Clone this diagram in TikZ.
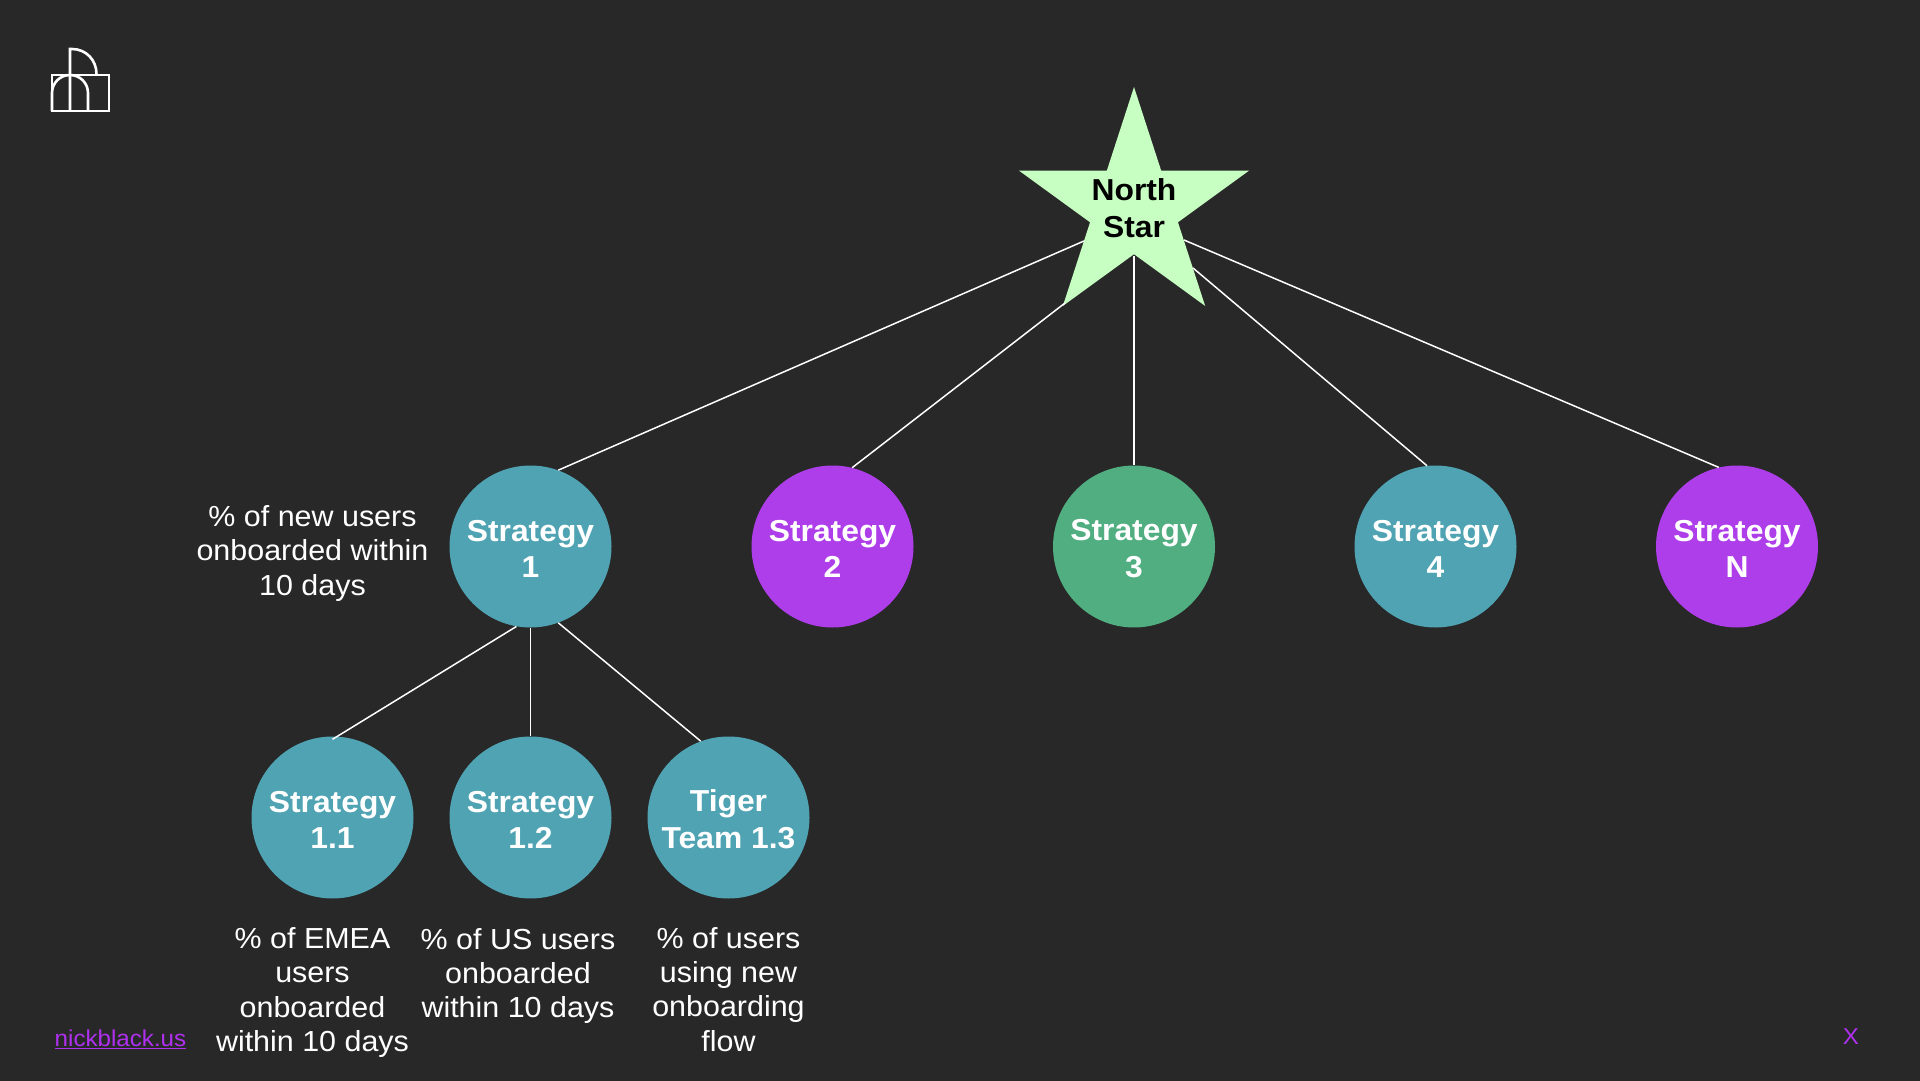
\documentclass[tikz,border=0pt]{standalone}
\usepackage{fontspec}
\setmainfont[FakeStretch=1.05]{Liberation Sans}
\usetikzlibrary{shapes.geometric}
\definecolor{bgc}{HTML}{282828}
\definecolor{tealc}{HTML}{4FA3B2}
\definecolor{purplec}{HTML}{AE3EEA}
\definecolor{greenc}{HTML}{50AE80}
\definecolor{starc}{HTML}{C6FFC1}
\definecolor{linkc}{HTML}{B030F0}
\newcommand{\liftline}{\rule{0pt}{26pt}}
\tikzset{
  circ/.style={circle,minimum size=162pt,inner sep=0pt,text=white,align=center,font=\fontsize{30.3}{36.8}\selectfont\bfseries},
  tealn/.style={circ,fill=tealc},
  purpn/.style={circ,fill=purplec},
  greenn/.style={circ,fill=greenc},
  note/.style={text=white,align=center,inner sep=0pt,font=\fontsize{29}{34.2}\selectfont},
  conn/.style={draw=white,line width=1.5pt},
  logo/.style={draw=white,line width=2.6pt,line join=miter}
}
\begin{document}
\begin{tikzpicture}[x=1pt,y=-1pt]
\useasboundingbox (0,0) rectangle (1920,1080.4);
\fill[bgc] (-2,-2) rectangle (1922,1083);
% logo
\draw[logo] (52,111) rectangle (109,75);
\draw[logo] (52,111) -- (52,93) .. controls (52,83) and (60,75) .. (70,75) .. controls (80,75) and (88,83) .. (88,93) -- (88,111);
\draw[logo] (70,111) -- (70,49) -- (72,49) .. controls (86,49) and (96.5,60) .. (96.5,74) -- (96.5,75);
% nodes
\node[star,star points=5,star point ratio=2.618,minimum size=242pt,inner sep=0pt,fill=starc] (ns) at (1134,208) {};
\node[text=black,align=center,inner sep=0pt,font=\fontsize{30.3}{36.8}\selectfont\bfseries] (nst) at (1134,208.5) {North\\Star};
\node[tealn] (s1) at (530.5,546.5) {\liftline Strategy\\1};
\node[purpn] (s2) at (832.5,546.5) {\liftline Strategy\\2};
\node[greenn] (s3) at (1134,546.5) {\liftline Strategy\\3};
\node[tealn] (s4) at (1435.5,546.5) {\liftline Strategy\\4};
\node[purpn] (sn) at (1737,546.5) {\liftline Strategy\\N};
\node[tealn] (s11) at (332.5,817.5) {\liftline Strategy\\1.1};
\node[tealn] (s12) at (530.5,817.5) {\liftline Strategy\\1.2};
\node[tealn] (s13) at (728.5,817.5) {\liftline Tiger\\Team 1.3};
% notes
\node[note] (n1) at (312.5,553.5) {\% of new users\\onboarded within\\10 days};
\node[note] (n11) at (312.5,992.5) {\% of EMEA\\users\\onboarded\\within 10 days};
\node[note] (n12) at (518,976) {\% of US users\\onboarded\\within 10 days};
\node[note] (n13) at (728.5,989.5) {\% of users\\using new\\onboarding\\flow};
\node[inner sep=0pt,text=linkc,font=\fontsize{23}{28}\selectfont] (lnk) at (120.5,1039) {\underline{nickblack.us}};
\node[inner sep=0pt,text=linkc,font=\fontsize{23}{28}\selectfont] (xx) at (1851,1037) {X};
% connector ends on the star
\coordinate (a1) at (1084,241);
\coordinate (a2) at (1065,303);
\coordinate (a3) at (1134,256);
\coordinate (a4) at (1193,268);
\coordinate (a5) at (1184,240);
\draw[conn] (a1) -- (s1.70);
\draw[conn] (a2) -- (s2.76.7);
\draw[conn] (a3) -- (s3.north);
\draw[conn] (a4) -- (s4.96.4);
\draw[conn] (a5) -- (sn.103.5);
\draw[conn] (s1.-100.6) -- ([yshift=-3pt]s11.north);
\draw[conn] (s1.south) -- (s12.north);
\draw[conn] (s1.-70) -- (s13.110.8);
\end{tikzpicture}
\end{document}
